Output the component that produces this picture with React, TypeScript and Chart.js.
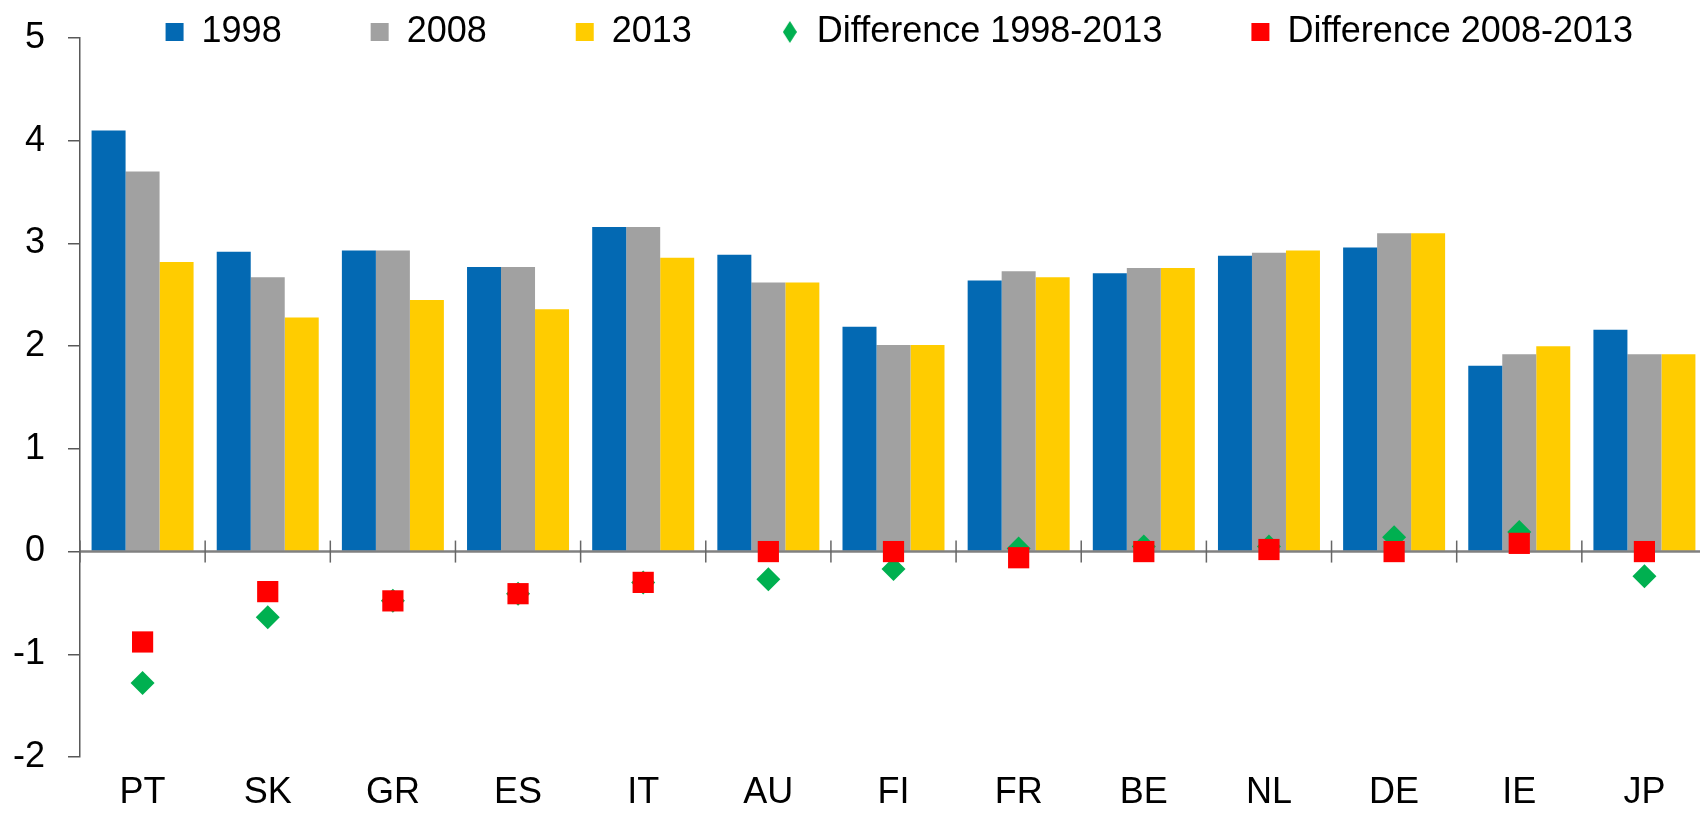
import React, { useEffect, useRef } from "react";
import { Chart, registerables } from "chart.js";

Chart.register(...registerables);

const categories = ["PT", "SK", "GR", "ES", "IT", "AU", "FI", "FR", "BE", "NL", "DE", "IE", "JP"];
const values1998 = [4.1, 2.92, 2.93, 2.77, 3.16, 2.89, 2.19, 2.64, 2.71, 2.88, 2.96, 1.81, 2.16];
const values2008 = [3.7, 2.67, 2.93, 2.77, 3.16, 2.62, 2.01, 2.73, 2.76, 2.91, 3.1, 1.92, 1.92];
const values2013 = [2.82, 2.28, 2.45, 2.36, 2.86, 2.62, 2.01, 2.67, 2.76, 2.93, 3.1, 2.0, 1.92];
const diff1998to2013 = [-1.28, -0.64, -0.48, -0.41, -0.3, -0.27, -0.17, 0.03, 0.05, 0.05, 0.14, 0.19, -0.24];
const diff2008to2013 = [-0.88, -0.39, -0.48, -0.41, -0.3, 0.0, 0.0, -0.06, 0.0, 0.02, 0.0, 0.08, 0.0];
const yTicks = [-2, -1, 0, 1, 2, 3, 4, 5];

const FONT = "'Liberation Sans', Arial, sans-serif";
const BLUE = "#0369B3";
const GRAY = "#A1A1A1";
const YELLOW = "#FFCC00";
const GREEN = "#00B050";
const RED = "#FF0000";

const zeroAxisPlugin = {
  id: "zeroAxis",
  afterLayout(chart: any) {
    const lg = chart.legend;
    if (lg) {
      lg.bottom += 30;
      lg.height += 30;
    }
  },
  beforeDatasetDraw(chart: any, args: any) {
    if (args.index !== 3) return;
    const { ctx, chartArea, scales } = chart;
    const xs = scales.x;
    const ys = scales.y;
    const y0 = ys.getPixelForValue(0);
    ctx.save();
    ctx.strokeStyle = "#808080";
    ctx.lineWidth = 2.5;
    ctx.beginPath();
    ctx.moveTo(chartArea.left, y0);
    ctx.lineTo(chartArea.right, y0);
    ctx.stroke();
    const step = xs.getPixelForValue(1) - xs.getPixelForValue(0);
    ctx.strokeStyle = "#666666";
    ctx.lineWidth = 1.5;
    for (let i = 0; i <= categories.length; i++) {
      const bx = xs.getPixelForValue(0) + (i - 0.5) * step;
      ctx.beginPath();
      ctx.moveTo(bx, y0 - 11);
      ctx.lineTo(bx, y0 + 11);
      ctx.stroke();
    }
    ctx.restore();
  },
};

export default function App() {
  const canvasRef = useRef<HTMLCanvasElement | null>(null);

  useEffect(() => {
    if (!canvasRef.current) return;
    const diamond = document.createElement("canvas");
    diamond.width = 14;
    diamond.height = 22;
    const dctx = diamond.getContext("2d");
    if (dctx) {
      dctx.fillStyle = GREEN;
      dctx.beginPath();
      dctx.moveTo(7, 0);
      dctx.lineTo(14, 11);
      dctx.lineTo(7, 22);
      dctx.lineTo(0, 11);
      dctx.closePath();
      dctx.fill();
    }

    const chart = new Chart(canvasRef.current, {
      type: "bar",
      data: {
        labels: categories,
        datasets: [
          {
            label: "1998",
            data: values1998,
            backgroundColor: BLUE,
            borderWidth: 0,
            pointStyle: "rect",
            categoryPercentage: 0.815,
            barPercentage: 1,
            order: 0,
          } as any,
          {
            label: "2008",
            data: values2008,
            backgroundColor: GRAY,
            borderWidth: 0,
            pointStyle: "rect",
            categoryPercentage: 0.815,
            barPercentage: 1,
            order: 0,
          },
          {
            label: "2013",
            data: values2013,
            backgroundColor: YELLOW,
            borderWidth: 0,
            pointStyle: "rect",
            categoryPercentage: 0.815,
            barPercentage: 1,
            order: 0,
          },
          {
            type: "line",
            label: "Difference 1998-2013",
            data: diff1998to2013,
            showLine: false,
            backgroundColor: GREEN,
            borderColor: GREEN,
            pointBackgroundColor: GREEN,
            pointBorderColor: GREEN,
            pointBorderWidth: 0,
            borderWidth: 0,
            pointStyle: "rectRot",
            pointRadius: 12,
            pointHoverRadius: 12,
            order: -1,
          } as any,
          {
            type: "line",
            label: "Difference 2008-2013",
            data: diff2008to2013,
            showLine: false,
            backgroundColor: RED,
            borderColor: RED,
            pointBackgroundColor: RED,
            pointBorderColor: RED,
            pointBorderWidth: 0,
            borderWidth: 0,
            pointStyle: "rect",
            pointRadius: 15,
            pointHoverRadius: 15,
            order: -2,
          } as any,
        ],
      },
      options: {
        animation: false,
        responsive: true,
        maintainAspectRatio: false,
        layout: { padding: { top: -75, left: 0, right: 0, bottom: 0 } },
        plugins: {
          tooltip: { enabled: false },
          legend: {
            position: "top",
            align: "end",
            maxHeight: 113,
            labels: {
              usePointStyle: true,
              boxWidth: 18,
              boxHeight: 18,
              padding: 89,
              color: "#000000",
              font: { size: 36, family: FONT },
              sort: (a: any, b: any) => a.datasetIndex - b.datasetIndex,
              generateLabels: (c: any) => {
                const items = (Chart.defaults.plugins.legend.labels as any).generateLabels(c);
                return items.map((it: any) => (it.datasetIndex === 3 ? { ...it, pointStyle: diamond } : it));
              },
            },
          } as any,
        },
        scales: {
          x: {
            type: "category",
            offset: true,
            grid: { display: false, drawTicks: false },
            border: { display: false },
            ticks: {
              color: "#000000",
              font: { size: 36, family: FONT },
              padding: 14,
              maxRotation: 0,
              autoSkip: false,
            },
            afterFit: (s: any) => {
              s.height = 57;
            },
          },
          y: {
            min: -2,
            max: 5,
            afterBuildTicks: (s: any) => {
              s.ticks = yTicks.map((v) => ({ value: v }));
            },
            grid: {
              display: true,
              drawOnChartArea: false,
              drawTicks: true,
              tickLength: 12,
              color: "#595959",
              lineWidth: 1.5,
            },
            border: { display: true, color: "#595959", width: 1.5 },
            ticks: {
              color: "#000000",
              font: { size: 36, family: FONT },
              padding: 23,
            },
            afterFit: (s: any) => {
              s.width = 80;
              s.paddingTop = 0;
              s.paddingBottom = 0;
            },
          },
        },
      },
      plugins: [zeroAxisPlugin],
    });
    return () => chart.destroy();
  }, []);

  return (
    <div
      style={{
        position: "fixed",
        left: 0,
        top: 0,
        width: 1700,
        height: 814,
        overflow: "hidden",
        background: "#ffffff",
      }}
    >
      <div style={{ position: "absolute", left: 0, top: 0, width: 1722, height: 814 }}>
        <canvas ref={canvasRef} />
      </div>
    </div>
  );
}
